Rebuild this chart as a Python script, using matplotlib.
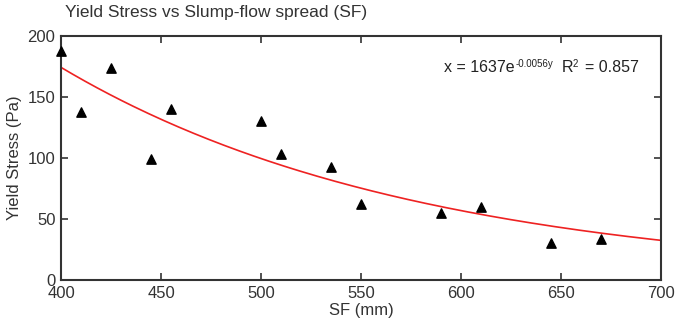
import numpy as np
import matplotlib
matplotlib.use("Agg")
import matplotlib.pyplot as plt

plt.rcParams['font.family'] = ['Liberation Sans', 'DejaVu Sans']

# slump-flow spread (mm) and yield stress (Pa)
sf = [400, 410, 425, 445, 455, 500, 510, 535, 550, 590, 610, 645, 670]
yield_stress = [188, 138, 174, 99, 140, 130, 103, 93, 62, 55, 60, 30, 34]

# fitted exponential shown in the chart
fit_a = 1637
fit_b = -0.0056
r_squared = 0.857

fig = plt.figure(figsize=(6.75, 3.29), dpi=100)
ax = fig.add_axes([0.0904, 0.149, 0.8889, 0.7416])

xs = np.linspace(400, 700, 200)
ax.plot(xs, fit_a * np.exp(fit_b * xs), color="#ee2222", lw=1.2, zorder=2)
ax.scatter(sf, yield_stress, marker="^", color="black", s=45, zorder=3, clip_on=False)

ax.set_xlim(400, 700)
ax.set_ylim(0, 200)
ax.set_xticks([400, 450, 500, 550, 600, 650, 700])
ax.set_yticks([0, 50, 100, 150, 200])
ax.tick_params(direction="in", top=True, right=True, length=5, width=1.2,
               labelsize=12, labelcolor="#333333", color="#333333", pad=4)
for s in ax.spines.values():
    s.set_linewidth(1.5)
    s.set_color("#333333")

ax.set_xlabel("SF (mm)", fontsize=12, color="#333333", labelpad=2)
ax.set_ylabel("Yield Stress (Pa)", fontsize=12, color="#333333", labelpad=4)
fig.text(65 / 675, 1 - 12 / 329, "Yield Stress vs Slump-flow spread (SF)", fontsize=12.5,
         color="#333333", va="center", ha="left")

# equation written piece by piece so the superscripts stay small
pieces = [("x = %de" % fit_a, 11.5, 0, 1),
          ("%.4fy" % fit_b, 7, 5, 8),
          ("R", 11.5, 0, 0),
          ("2", 7, 5, 7),
          ("= %.3f" % r_squared, 11.5, 0, 0)]
fig.canvas.draw()
renderer = fig.canvas.get_renderer()
x0 = 444
base = 329 - 72
for txt, size, dy, gap in pieces:
    t = fig.text(x0 / 675, (base + dy) / 329, txt, fontsize=size, color="#222222",
                 ha="left", va="baseline")
    x0 = t.get_window_extent(renderer).x1 + gap

fig.savefig("out.png", dpi=100)
